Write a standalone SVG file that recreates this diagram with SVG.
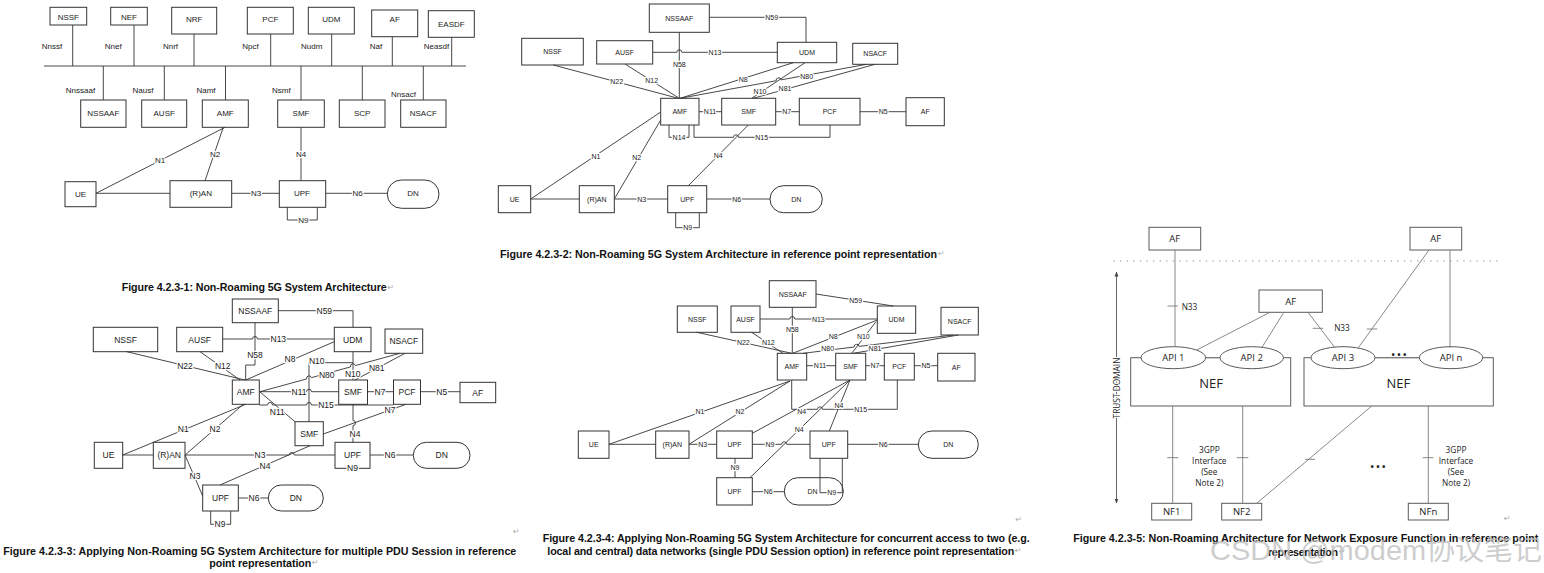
<svg xmlns="http://www.w3.org/2000/svg" width="1544" height="573" viewBox="0 0 1544 573">
<style>
.bx{fill:#fff;stroke:#333;stroke-width:1}
.ln{fill:none;stroke:#333;stroke-width:0.9}
.t{font-family:"Liberation Sans",Arial,sans-serif;fill:#1a1a1a;text-anchor:middle;dominant-baseline:central}
.k{paint-order:stroke;stroke:#fff;stroke-width:2.4px;stroke-linejoin:round}
.s8{font-size:8px}
.s7{font-size:7px}
.s85{font-size:8.5px}
.cap{font-family:"Liberation Sans",Arial,sans-serif;font-weight:bold;font-size:10.7px;fill:#111;dominant-baseline:central}
.rt{font-family:"DejaVu Sans",sans-serif;font-size:8px;fill:#aaa;dominant-baseline:central}
.b5{fill:#fff;stroke:#5a5a5a;stroke-width:1}
.l5{fill:none;stroke:#7a7a7a;stroke-width:0.9}
.t5{font-family:"Open Sans","Liberation Sans",sans-serif;fill:#222;text-anchor:middle;dominant-baseline:central}
.wm{font-family:"Liberation Sans","Noto Sans CJK SC",sans-serif;font-size:28px;fill:#bdbdbd;fill-opacity:0.75}
</style>
<defs>
<marker id="ah" viewBox="0 0 10 10" refX="9" refY="5" markerWidth="5" markerHeight="5" orient="auto-start-reverse" markerUnits="userSpaceOnUse">
<path d="M0,1 L10,5 L0,9 z" fill="#444"/>
</marker>
</defs>
<rect width="1544" height="573" fill="#fff"/>

<!-- ===== Figure 1 nodes ===== -->
<g id="f1-nssf"><rect class="bx" x="50" y="7.3" width="36.7" height="17.7"/><text class="t s8" x="68.3" y="17">NSSF</text></g>
<g id="f1-nef"><rect class="bx" x="110.7" y="7.3" width="36.6" height="17.7"/><text class="t s8" x="129" y="17">NEF</text></g>
<g id="f1-nrf"><rect class="bx" x="171.7" y="7.3" width="45" height="26.7"/><text class="t s8" x="194.2" y="19">NRF</text></g>
<g id="f1-pcf"><rect class="bx" x="247.3" y="7.3" width="46" height="26.7"/><text class="t s8" x="270.3" y="19">PCF</text></g>
<g id="f1-udm"><rect class="bx" x="308.3" y="7.3" width="46" height="26.7"/><text class="t s8" x="331.3" y="19">UDM</text></g>
<g id="f1-af"><rect class="bx" x="371.7" y="10" width="46" height="26.7"/><text class="t s8" x="394.7" y="19.5">AF</text></g>
<g id="f1-easdf"><rect class="bx" x="428.3" y="10.7" width="46" height="26.6"/><text class="t s8" x="451.3" y="24">EASDF</text></g>
<g id="f1-nssaaf"><rect class="bx" x="80.7" y="100" width="45.3" height="27.3"/><text class="t s8" x="103.3" y="113.5">NSSAAF</text></g>
<g id="f1-ausf"><rect class="bx" x="141.7" y="100" width="45" height="27.3"/><text class="t s8" x="164.2" y="113.5">AUSF</text></g>
<g id="f1-amf"><rect class="bx" x="202.3" y="100" width="46" height="27.3"/><text class="t s8" x="225.3" y="113.5">AMF</text></g>
<g id="f1-smf"><rect class="bx" x="277.7" y="100" width="46.6" height="27.3"/><text class="t s8" x="301" y="113.5">SMF</text></g>
<g id="f1-scp"><rect class="bx" x="339.3" y="100" width="45.7" height="27.3"/><text class="t s8" x="362.2" y="113.5">SCP</text></g>
<g id="f1-nsacf"><rect class="bx" x="400.7" y="100" width="45.3" height="27.3"/><text class="t s8" x="423.3" y="113.5">NSACF</text></g>
<g id="f1-ue"><rect class="bx" x="65" y="181.7" width="31" height="25"/><text class="t s8" x="80.5" y="194">UE</text></g>
<g id="f1-ran"><rect class="bx" x="170" y="180.7" width="61.7" height="26.6"/><text class="t s8" x="200.8" y="193.5">(R)AN</text></g>
<g id="f1-upf"><rect class="bx" x="279.3" y="180.7" width="46.4" height="26.6"/><text class="t s8" x="302" y="193.5">UPF</text></g>
<g id="f1-dn"><rect class="bx" x="387.3" y="180" width="51.7" height="28.3" rx="14.1"/><text class="t s8" x="413" y="193.5">DN</text></g>

<!-- ===== Figure 2 nodes ===== -->
<g id="f2-nssaaf"><rect class="bx" x="649.3" y="4" width="60" height="28.3"/><text class="t s7" x="679.3" y="18">NSSAAF</text></g>
<g id="f2-nssf"><rect class="bx" x="521.7" y="38.3" width="61.6" height="26.7"/><text class="t s7" x="552.5" y="51.5">NSSF</text></g>
<g id="f2-ausf"><rect class="bx" x="596.7" y="40.7" width="56" height="23.3"/><text class="t s7" x="624.7" y="52.3">AUSF</text></g>
<g id="f2-udm"><rect class="bx" x="777.3" y="42.3" width="59.4" height="20.4"/><text class="t s7" x="807" y="52.5">UDM</text></g>
<g id="f2-nsacf"><rect class="bx" x="852.7" y="43.3" width="45" height="21"/><text class="t s7" x="875.2" y="53.8">NSACF</text></g>
<g id="f2-amf"><rect class="bx" x="660.7" y="98.3" width="38.3" height="26.7"/><text class="t s7" x="679.8" y="111.7">AMF</text></g>
<g id="f2-smf"><rect class="bx" x="721.7" y="98.3" width="54" height="26.7"/><text class="t s7" x="748.7" y="111.7">SMF</text></g>
<g id="f2-pcf"><rect class="bx" x="799.3" y="98.3" width="60.7" height="26.7"/><text class="t s7" x="829.7" y="111.7">PCF</text></g>
<g id="f2-af"><rect class="bx" x="906" y="97.7" width="38.3" height="28"/><text class="t s7" x="925.2" y="111.7">AF</text></g>
<g id="f2-ue"><rect class="bx" x="498.3" y="185.7" width="32.4" height="27"/><text class="t s7" x="514.5" y="199">UE</text></g>
<g id="f2-ran"><rect class="bx" x="579.3" y="185.7" width="35" height="27"/><text class="t s7" x="596.8" y="199">(R)AN</text></g>
<g id="f2-upf"><rect class="bx" x="667.7" y="185.7" width="39" height="27"/><text class="t s7" x="687.2" y="199">UPF</text></g>
<g id="f2-dn"><rect class="bx" x="770" y="185.7" width="52.3" height="27" rx="13.5"/><text class="t s7" x="796.2" y="199">DN</text></g>

<!-- ===== Figure 3 nodes ===== -->
<g id="f3-nssaaf"><rect class="bx" x="232.3" y="299" width="46" height="23.7"/><text class="t s85" x="255.3" y="310.8">NSSAAF</text></g>
<g id="f3-nssf"><rect class="bx" x="93.3" y="327.3" width="64.4" height="24.4"/><text class="t s85" x="125.5" y="339.5">NSSF</text></g>
<g id="f3-ausf"><rect class="bx" x="176.7" y="327.3" width="46" height="24.4"/><text class="t s85" x="199.7" y="339.5">AUSF</text></g>
<g id="f3-udm"><rect class="bx" x="334.3" y="327.3" width="36.7" height="24.4"/><text class="t s85" x="352.7" y="339.5">UDM</text></g>
<g id="f3-nsacf"><rect class="bx" x="385" y="329" width="37.7" height="24.3"/><text class="t s85" x="403.8" y="341.2">NSACF</text></g>
<g id="f3-amf"><rect class="bx" x="232.3" y="380" width="27" height="24.3"/><text class="t s85" x="245.8" y="392.2">AMF</text></g>
<g id="f3-smf"><rect class="bx" x="338.7" y="380" width="28.8" height="24.3"/><text class="t s85" x="353.1" y="392.2">SMF</text></g>
<g id="f3-pcf"><rect class="bx" x="393.5" y="380" width="27" height="24.3"/><text class="t s85" x="407" y="392.2">PCF</text></g>
<g id="f3-af"><rect class="bx" x="460" y="382.3" width="35.7" height="20.4"/><text class="t s85" x="477.8" y="392.5">AF</text></g>
<g id="f3-smf2"><rect class="bx" x="295" y="421.7" width="28.3" height="24"/><text class="t s85" x="309.2" y="433.7">SMF</text></g>
<g id="f3-ue"><rect class="bx" x="94.3" y="442.3" width="28.4" height="26"/><text class="t s85" x="108.5" y="455.3">UE</text></g>
<g id="f3-ran"><rect class="bx" x="153.3" y="442.3" width="31.7" height="26"/><text class="t s85" x="169.2" y="455.3">(R)AN</text></g>
<g id="f3-upf1"><rect class="bx" x="335" y="442.3" width="35" height="26"/><text class="t s85" x="352.5" y="455.3">UPF</text></g>
<g id="f3-dn1"><rect class="bx" x="413.3" y="442.3" width="56.7" height="26" rx="13"/><text class="t s85" x="441.7" y="455.3">DN</text></g>
<g id="f3-upf2"><rect class="bx" x="202.7" y="485" width="35.6" height="26"/><text class="t s85" x="220.5" y="498">UPF</text></g>
<g id="f3-dn2"><rect class="bx" x="268.3" y="485" width="55" height="26" rx="13"/><text class="t s85" x="295.8" y="498">DN</text></g>

<!-- ===== Figure 4 nodes ===== -->
<g id="f4-nssaaf"><rect class="bx" x="769.3" y="280.7" width="46.7" height="26.6"/><text class="t s7" x="792.7" y="294">NSSAAF</text></g>
<g id="f4-nssf"><rect class="bx" x="677.3" y="306" width="40" height="26.3"/><text class="t s7" x="697.3" y="319.2">NSSF</text></g>
<g id="f4-ausf"><rect class="bx" x="731" y="306" width="29" height="26.3"/><text class="t s7" x="745.5" y="319.2">AUSF</text></g>
<g id="f4-udm"><rect class="bx" x="877.3" y="306" width="38.4" height="27.3"/><text class="t s7" x="896.5" y="319.6">UDM</text></g>
<g id="f4-nsacf"><rect class="bx" x="941" y="307.3" width="37.3" height="27.7"/><text class="t s7" x="959.7" y="321.2">NSACF</text></g>
<g id="f4-amf"><rect class="bx" x="777.3" y="353.3" width="29.4" height="26.7"/><text class="t s7" x="792" y="366.7">AMF</text></g>
<g id="f4-smf"><rect class="bx" x="835.7" y="353.3" width="30" height="26.7"/><text class="t s7" x="850.7" y="366.7">SMF</text></g>
<g id="f4-pcf"><rect class="bx" x="884.3" y="353.3" width="30" height="26.7"/><text class="t s7" x="899.3" y="366.7">PCF</text></g>
<g id="f4-af"><rect class="bx" x="937.7" y="353.3" width="37.3" height="27.7"/><text class="t s7" x="956.3" y="367.2">AF</text></g>
<g id="f4-ue"><rect class="bx" x="578.3" y="431" width="30.7" height="27.3"/><text class="t s7" x="593.7" y="444.7">UE</text></g>
<g id="f4-ran"><rect class="bx" x="655.7" y="431" width="33.3" height="27.3"/><text class="t s7" x="672.3" y="444.7">(R)AN</text></g>
<g id="f4-upf1"><rect class="bx" x="716.7" y="431" width="35.6" height="27.3"/><text class="t s7" x="734.5" y="444.7">UPF</text></g>
<g id="f4-upf2"><rect class="bx" x="810" y="431" width="37.7" height="27.3"/><text class="t s7" x="828.8" y="444.7">UPF</text></g>
<g id="f4-dn1"><rect class="bx" x="918.3" y="431" width="60" height="27.3" rx="13.6"/><text class="t s7" x="948.3" y="444.7">DN</text></g>
<g id="f4-upf3"><rect class="bx" x="716.7" y="477.7" width="35.6" height="27.3"/><text class="t s7" x="734.5" y="491.3">UPF</text></g>
<g id="f4-dn2"><rect class="bx" x="784.3" y="477.7" width="59" height="27.3" rx="13.6"/><text class="t s7" x="812.5" y="491.7">DN</text></g>

<!-- ===== Figure 5 nodes ===== -->
<g id="f5-af1"><rect class="b5" x="1149" y="227.3" width="51.7" height="22.7"/><text class="t5" font-size="9.5" x="1174.8" y="238.7">AF</text></g>
<g id="f5-af2"><rect class="b5" x="1410" y="227.3" width="51.7" height="22.7"/><text class="t5" font-size="9.5" x="1435.8" y="238.7">AF</text></g>
<g id="f5-af3"><rect class="b5" x="1259" y="290" width="63.3" height="22.3"/><text class="t5" font-size="9.5" x="1290.7" y="301.2">AF</text></g>
<g id="f5-nef1"><rect class="b5" x="1130.7" y="357.7" width="160" height="48.3"/><text class="t5" font-size="13" x="1211" y="383">NEF</text></g>
<g id="f5-nef2"><rect class="b5" x="1304" y="357.7" width="189.3" height="48.3"/><text class="t5" font-size="13" x="1398.3" y="383">NEF</text></g>
<g id="f5-api1"><ellipse class="b5" cx="1173.3" cy="357.7" rx="32.3" ry="11"/><text class="t5" font-size="9.5" x="1173.3" y="357.7">API 1</text></g>
<g id="f5-api2"><ellipse class="b5" cx="1251.7" cy="357.7" rx="31.7" ry="11"/><text class="t5" font-size="9.5" x="1251.7" y="357.7">API 2</text></g>
<g id="f5-api3"><ellipse class="b5" cx="1343" cy="357.7" rx="32" ry="11"/><text class="t5" font-size="9.5" x="1343" y="357.7">API 3</text></g>
<g id="f5-apin"><ellipse class="b5" cx="1451" cy="357.7" rx="31.7" ry="11"/><text class="t5" font-size="9.5" x="1451" y="357.7">API n</text></g>
<g id="f5-nf1"><rect class="b5" x="1151.7" y="503.3" width="40" height="16.7"/><text class="t5" font-size="9.5" x="1171.7" y="511.7">NF1</text></g>
<g id="f5-nf2"><rect class="b5" x="1221.7" y="503.3" width="40" height="16.7"/><text class="t5" font-size="9.5" x="1241.7" y="511.7">NF2</text></g>
<g id="f5-nfn"><rect class="b5" x="1408.3" y="503.3" width="40" height="16.7"/><text class="t5" font-size="9.5" x="1428.3" y="511.7">NFn</text></g>

<!-- ===== Connectors ===== -->
<g id="connectors">
 <g id="c-f1">
  <path class="ln" d="M44,66 H466"/>
  <path class="ln" d="M72.7,25 V66 M134,25 V66 M194,34 V66 M270.7,34 V66 M331.7,34 V66 M392.3,36.7 V66 M451.7,37.3 V66"/>
  <path class="ln" d="M103.3,66 V100 M164.3,66 V100 M225.5,66 V100 M301,66 V100 M362.3,66 V100 M423.3,66 V100"/>
  <path class="ln" d="M96,193.3 L225,127.3 M223.3,127.3 L205,180.7 M96,193.3 H170 M231.7,193.3 H279.3 M301,127.3 V180.7 M325.7,193.3 H387.3 M287.3,207.3 V220 H317.3 V207.3"/>
  <g class="t s8">
   <text x="52" y="46">Nnssf</text><text x="113.3" y="46">Nnef</text><text x="170.5" y="46">Nnrf</text><text x="250.5" y="46">Npcf</text><text x="311.7" y="46">Nudm</text><text x="376" y="46">Naf</text><text x="436.5" y="46">Neasdf</text>
   <text x="80.5" y="90.7">Nnssaaf</text><text x="143" y="90.7">Nausf</text><text x="206" y="90.7">Namf</text><text x="281.3" y="90.7">Nsmf</text><text x="403.5" y="94">Nnsacf</text>
  </g>
  <g class="t s8 k">
   <text x="160" y="160.7">N1</text><text x="215" y="154">N2</text><text x="256" y="193.3">N3</text><text x="301" y="154">N4</text><text x="357.7" y="193.3">N6</text><text x="303.3" y="220">N9</text>
  </g>
 </g>
 <g id="c-f2">
  <path class="ln" d="M709.3,17.3 H806 V42.3"/>
  <path class="ln" d="M652.7,52.3 H676.8 a2.5,2.5 0 0 1 5,0 H777.3"/>
  <path class="ln" d="M679.3,32.3 V98.3"/>
  <path class="ln" d="M553.3,65 L678.3,98.3 M625,64 L679.3,98.3 M793.3,62.7 L680,98.3"/>
  <path class="ln" d="M866.7,64.3 L781.06,79.85 A2.5,2.5 0 0 0 776.14,80.75 L680,98.3"/>
  <path class="ln" d="M805,62.7 L751.7,98.3 M875,64.3 L753.3,98.3"/>
  <path class="ln" d="M699,111.7 H721.7 M775.7,111.7 H799.3 M860,111.7 H906"/>
  <path class="ln" d="M669,125 V137.3 H689 V125"/>
  <path class="ln" d="M694,125 V137.3 H733.5 a2.5,2.5 0 0 1 5,0 H830 V125"/>
  <path class="ln" d="M748.3,125 L688.3,185.7 M530.7,199 L660.7,112 M614.3,199 L660.7,120"/>
  <path class="ln" d="M530.7,199 H579.3 M614.3,199 H667.7 M706.7,199 H770 M675.7,212.7 V227.7 H699.3 V212.7"/>
  <g class="t s7 k">
   <text x="771.7" y="17.3">N59</text><text x="715" y="52.3">N13</text><text x="679.3" y="64.3">N58</text><text x="616.7" y="81">N22</text><text x="651.7" y="80">N12</text><text x="743.3" y="79">N8</text><text x="806.7" y="76">N80</text><text x="760" y="91.5">N10</text><text x="785" y="88">N81</text>
   <text x="710" y="111.7">N11</text><text x="786.7" y="111.7">N7</text><text x="883.3" y="111.7">N5</text><text x="679" y="137.3">N14</text><text x="761.7" y="137.3">N15</text>
   <text x="596" y="156">N1</text><text x="636.7" y="157">N2</text><text x="718.3" y="155">N4</text><text x="641.7" y="199">N3</text><text x="736.7" y="199">N6</text><text x="687.7" y="227.7">N9</text>
  </g>
 </g>
 <g id="c-f3">
  <path class="ln" d="M278.3,310.7 H353 V327.3"/>
  <path class="ln" d="M222.7,339 H252.5 a2.5,2.5 0 0 1 5,0 H334.3"/>
  <path class="ln" d="M255,322.7 V365 H245.7 V380"/>
  <path class="ln" d="M126.7,351.7 L245,380 M200,351.7 L240,380 M334.3,341.7 L245.7,380"/>
  <path class="ln" d="M353,351.7 V380 M353,362.7 H309 V421.7"/>
  <path class="ln" d="M400,353.3 L355.41,365.54 A2.5,2.5 0 0 0 350.59,366.86 L311.41,377.64 A2.5,2.5 0 0 0 306.59,378.96 L260,391.7"/>
  <path class="ln" d="M405,353.3 L355,380"/>
  <path class="ln" d="M259.3,391.7 H306.5 a2.5,2.5 0 0 1 5,0 H338.7 M367.5,391.7 H393.5 M420.5,391.7 H460"/>
  <path class="ln" d="M259.3,405 H267.5 a2.5,2.5 0 0 1 5,0 H306.5 a2.5,2.5 0 0 1 5,0 H393.5"/>
  <path class="ln" d="M260,392 L295,421.7 M406,404.3 L323.3,434"/>
  <path class="ln" d="M353,404.3 V420.5 a2.5,2.5 0 0 1 0,5 V442.3"/>
  <path class="ln" d="M122.7,455 L245.7,404.3 M185,455 L243.3,404.3 M122.7,455 H153.3"/>
  <path class="ln" d="M185,455 H289.2 a2.5,2.5 0 0 1 5,0 H335 M370,455 H413.3"/>
  <path class="ln" d="M310,445.7 L220,485 M185,455 L202.7,496"/>
  <path class="ln" d="M238.3,498 H268.3 M210.7,511 V524.3 H230.7 V511"/>
  <g class="t s85 k">
   <text x="324.3" y="310.7">N59</text><text x="278.3" y="339">N13</text><text x="255" y="355">N58</text><text x="185" y="365.7">N22</text><text x="222.7" y="365.7">N12</text><text x="290" y="359">N8</text>
   <text x="316.7" y="360.5">N10</text><text x="352.7" y="373.5">N10</text><text x="326.7" y="375">N80</text><text x="376.7" y="367.5">N81</text>
   <text x="299" y="391.7">N11</text><text x="380" y="391.7">N7</text><text x="441.7" y="391.7">N5</text><text x="326" y="405">N15</text><text x="277.3" y="411.7">N11</text><text x="390" y="410">N7</text><text x="355" y="434">N4</text>
   <text x="183.3" y="429.3">N1</text><text x="215" y="429.3">N2</text><text x="260" y="455">N3</text><text x="265" y="466">N4</text><text x="195" y="475.7">N3</text><text x="390" y="455">N6</text><text x="352.5" y="468.3">N9</text><text x="254" y="498">N6</text><text x="220" y="524.3">N9</text>
  </g>
 </g>
 <g id="c-f4">
  <path class="ln" d="M816,294 L893.3,306"/>
  <path class="ln" d="M760,319 H789.8 a2.5,2.5 0 0 1 5,0 H877.3"/>
  <path class="ln" d="M792.3,307.3 V353.3"/>
  <path class="ln" d="M696.7,332.3 L791.7,353.3 M751.7,332.3 L783,353.3 M877.3,320 L792.7,353.3 M876,321.7 L851.7,353.3"/>
  <path class="ln" d="M953.3,335 L859.08,346.4 A2.5,2.5 0 0 0 854.12,347 L803.3,353.3"/>
  <path class="ln" d="M958.3,335 L853.3,353.3"/>
  <path class="ln" d="M806.7,365.7 H835.7 M865.7,365.7 H884.3 M914.3,365.7 H937.7"/>
  <path class="ln" d="M791.7,380 V409.3 H817.5 a2.5,2.5 0 0 1 5,0 H897.3 V380"/>
  <path class="ln" d="M609,444.3 L790,381 M689,444.3 L790,381"/>
  <path class="ln" d="M850,380 L752.3,433.3 M850,380 L750,477.7 M850,380 L829.3,431"/>
  <path class="ln" d="M609,444.3 H655.7 M689,444.3 H716.7 M752.3,444.3 H781.7 a2.5,2.5 0 0 1 5,0 H810 M847.7,444.3 H918.3"/>
  <path class="ln" d="M735,458.3 V477.7 M752.3,491.7 H784.3 M820,458.3 V492.7 H842.3 V458.3"/>
  <g class="t s7 k">
   <text x="855.7" y="300">N59</text><text x="818.3" y="319">N13</text><text x="792.3" y="329.3">N58</text><text x="743.3" y="342.7">N22</text><text x="768.3" y="342.7">N12</text><text x="833.3" y="336">N8</text><text x="863.3" y="336">N10</text><text x="827.7" y="348.5">N80</text><text x="875" y="348.5">N81</text>
   <text x="820" y="365.7">N11</text><text x="875" y="365.7">N7</text><text x="926" y="365.7">N5</text><text x="860.7" y="409.3">N15</text>
   <text x="700" y="411.5">N1</text><text x="740" y="411.5">N2</text><text x="801.7" y="411.5">N4</text><text x="839" y="405">N4</text><text x="799.3" y="429.3">N4</text>
   <text x="702.7" y="444.3">N3</text><text x="770" y="444.3">N9</text><text x="883.3" y="444.3">N6</text><text x="735" y="467.3">N9</text><text x="768.3" y="491.7">N6</text><text x="831.7" y="492.7">N9</text>
  </g>
 </g>
 <g id="c-f5">
  <path class="l5" d="M1113.5,261 H1502" stroke-dasharray="1.2 5.4"/>
  <path class="l5" d="M1175,250 V346.7 M1167.5,306 H1178"/>
  <path class="l5" d="M1270,312.3 L1196.7,350 M1283.3,313.3 L1261.7,347.7 M1308.3,312.7 L1335,347.7 M1312.7,328.3 H1323.3"/>
  <path class="l5" d="M1429,250 L1358.3,347.7 M1366.7,329 H1377.3 M1450,250 V347.7"/>
  <path class="l5" d="M1205.6,357.7 H1220 M1375,357.7 H1419.3"/>
  <path class="l5" d="M1172.7,406 V503.3 M1167.3,457.7 H1178.3 M1242.7,406 V503.3 M1236.7,457.7 H1248.3"/>
  <path class="l5" d="M1371.7,406 L1256.7,503.3 M1305,459.3 H1315 M1428.3,406 V503.3 M1422.7,457.7 H1433.3"/>
  <g class="t5" font-size="8.3">
   <text x="1189.5" y="306">N33</text><text x="1342" y="327.3">N33</text>
   <text x="1209.3" y="449">3GPP</text><text x="1209.3" y="460.7">Interface</text><text x="1209.3" y="471.7">(See</text><text x="1209.3" y="482.7">Note 2)</text>
   <text x="1456" y="449">3GPP</text><text x="1456" y="460.7">Interface</text><text x="1456" y="471.7">(See</text><text x="1456" y="482.7">Note 2)</text>
  </g>
  <g class="t5" font-size="9" font-weight="bold"><text x="1399" y="354">• • •</text><text x="1378" y="466">• • •</text></g>
 </g>
</g>

<!-- trust domain annotation -->
<g id="trust-domain">
 <path d="M1116.5,503 V272" fill="none" stroke="#555" stroke-width="0.9" marker-start="url(#ah)" marker-end="url(#ah)"/>
 <text class="t5 k" font-size="8.3" transform="translate(1116.5,388) rotate(-90)" x="0" y="0">TRUST DOMAIN</text>
</g>

<!-- ===== Captions ===== -->
<g id="captions">
 <text class="cap" x="121.7" y="287.3" textLength="265" lengthAdjust="spacing">Figure 4.2.3-1: Non-Roaming 5G System Architecture</text><text class="rt" x="387.5" y="287.3">↵</text>
 <text class="cap" x="500" y="253.5" textLength="437" lengthAdjust="spacing">Figure 4.2.3-2: Non-Roaming 5G System Architecture in reference point representation</text><text class="rt" x="938" y="253.5">↵</text>
 <text class="rt" x="513" y="531.7">↵</text>
 <text class="cap" x="3.3" y="550.5" textLength="513" lengthAdjust="spacing">Figure 4.2.3-3: Applying Non-Roaming 5G System Architecture for multiple PDU Session in reference</text>
 <text class="cap" x="209.3" y="562.5" textLength="102" lengthAdjust="spacing">point representation</text><text class="rt" x="312" y="562.5">↵</text>
 <text class="rt" x="1015.5" y="519.3">↵</text>
 <text class="cap" x="542.7" y="538.3" textLength="487" lengthAdjust="spacing">Figure 4.2.3-4: Applying Non-Roaming 5G System Architecture for concurrent access to two (e.g.</text>
 <text class="cap" x="547.3" y="550.7" textLength="467" lengthAdjust="spacing">local and central) data networks (single PDU Session option) in reference point representation</text><text class="rt" x="1015" y="550.7">↵</text>
 <text class="rt" x="1504" y="518.3">↵</text>
 <text class="cap" x="1073.3" y="538.3" textLength="465" lengthAdjust="spacing">Figure 4.2.3-5: Non-Roaming Architecture for Network Exposure Function in reference point</text>
 <text class="cap" x="1268" y="551.5" textLength="70" lengthAdjust="spacing">representation</text><text class="rt" x="1339" y="551.5">↵</text>
 <text class="wm" x="1210" y="560" textLength="332" lengthAdjust="spacingAndGlyphs">CSDN @modem协议笔记</text>
</g>
</svg>
